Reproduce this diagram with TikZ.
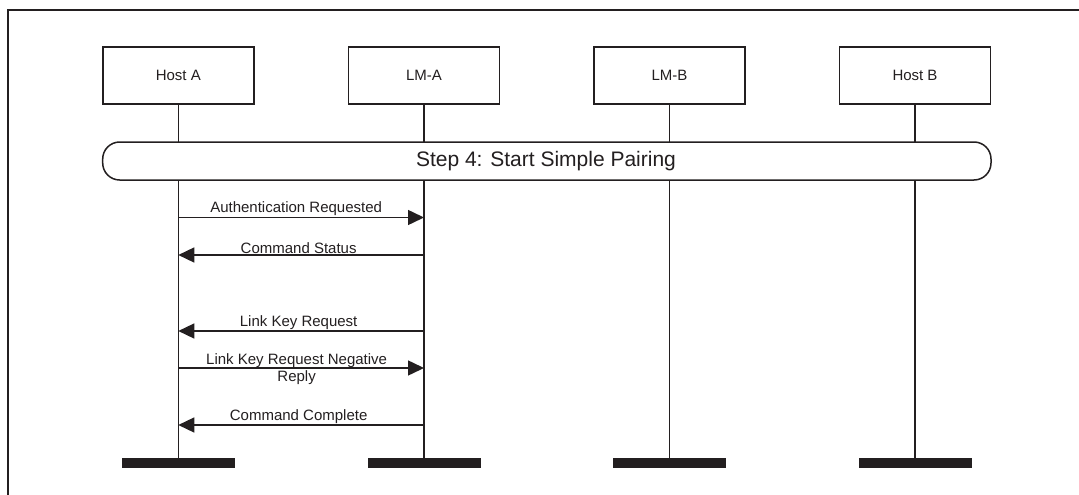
\documentclass[tikz,border=0pt]{standalone}
\usepackage{fontspec}
\setmainfont{Liberation Sans}
\usetikzlibrary{arrows.meta}
\definecolor{ink}{HTML}{231F20}
\tikzset{
  entity/.style={draw=ink, line width=1.5pt, fill=white, minimum width=151pt, minimum height=57pt, inner sep=0pt, font=\fontsize{15}{17}\selectfont, text=ink},
  life/.style={draw=ink, line width=1.5pt},
  endbar/.style={fill=ink, draw=none, minimum width=113pt, minimum height=10pt, inner sep=0pt},
  msg/.style={draw=ink, line width=1.5pt, -{Triangle[length=16pt,width=15pt]}},
  msglabel/.style={font=\fontsize{15}{17}\selectfont, text=ink, inner sep=1pt, align=center},
  pill/.style={draw=ink, line width=1.5pt, fill=white, rounded corners=17pt},
}
\begin{document}
\begin{tikzpicture}[x=1pt,y=-1pt]
\useasboundingbox (0,0) rectangle (1079,495);
% frame (top and left edges visible)
\draw[ink, line width=1.5pt] (8,495) -- (8,10) -- (1079,10);

% entities
\node[entity] (hA) at (178.3,75.7) {Host A};
\node[entity] (lA) at (424,75.7) {LM-A};
\node[entity] (lB) at (669.5,75.7) {LM-B};
\node[entity] (hB) at (915,75.7) {Host B};

% end bars
\node[endbar] (bA) at (178.3,463) {};
\node[endbar] (bLA) at (424,463) {};
\node[endbar] (bLB) at (669.5,463) {};
\node[endbar] (bB) at (915,463) {};

% lifelines
\draw[life] (hA.south) -- (bA.north);
\draw[life] (lA.south) -- (bLA.north);
\draw[life] (lB.south) -- (bLB.north);
\draw[life] (hB.south) -- (bB.north);

% step pill
\draw[pill] (102.7,142) rectangle (991,180);
\node[font=\fontsize{21}{24}\selectfont, text=ink] (step) at (546,161) {Step 4: Start Simple Pairing};

% messages
\draw[msg] (hA.south |- 0,217.5) -- (lA.south |- 0,217.5)
  node[msglabel, midway, anchor=south, xshift=-5pt] (m1) {Authentication Requested};
\draw[msg] (lA.south |- 0,255) -- (hA.south |- 0,255)
  node[msglabel, midway, anchor=south, xshift=-2.5pt] (m2) {Command Status};
\draw[msg] (lA.south |- 0,331) -- (hA.south |- 0,331)
  node[msglabel, midway, anchor=south, xshift=-2.5pt] (m3) {Link Key Request};
\draw[msg] (hA.south |- 0,368) -- (lA.south |- 0,368)
  node[msglabel, midway, xshift=-4.5pt, yshift=-1pt] (m4) {Link Key Request Negative\\Reply};
\draw[msg] (lA.south |- 0,425) -- (hA.south |- 0,425)
  node[msglabel, midway, anchor=south, xshift=-2.5pt] (m5) {Command Complete};
\end{tikzpicture}
\end{document}
